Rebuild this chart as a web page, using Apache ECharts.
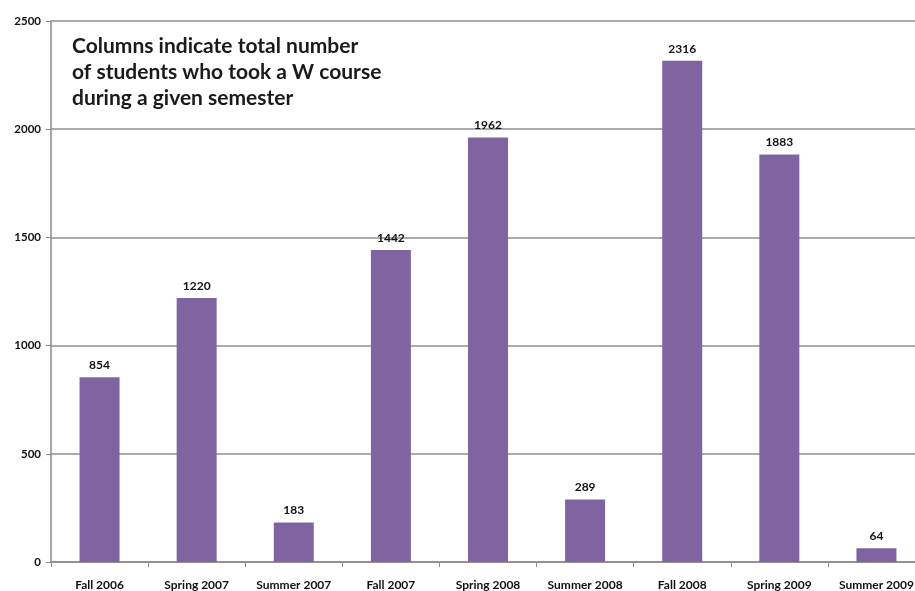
<!DOCTYPE html>
<html><head><meta charset="utf-8">
<script src="https://cdn.jsdelivr.net/npm/echarts@6/dist/echarts.min.js"></script>
<style>html,body{margin:0;padding:0;background:#fff;overflow:hidden;width:915px;height:591px}#c{width:925px;height:591px}</style>
</head><body><div id="c"></div>
<script>
const categories = ["Fall 2006","Spring 2007","Summer 2007","Fall 2007","Spring 2008","Summer 2008","Fall 2008","Spring 2009","Summer 2009"];
const students = [854,1220,183,1442,1962,289,2316,1883,64];
const titleLines = ["Columns indicate total number","of students who took a W course","during a given semester"];
const chart = echarts.init(document.getElementById('c'), null, {renderer:'canvas'});
chart.setOption({
  animation:false,
  backgroundColor:'#fff',
  title:{text:titleLines.join('\n'),left:67,top:28,textStyle:{fontFamily:'Lato',fontWeight:'bold',fontSize:21,lineHeight:26,color:'#1a1a1a'}},
  grid:{left:51,top:21,right:0,bottom:29,containLabel:false},
  xAxis:{type:'category',data:categories,
    axisLine:{lineStyle:{color:'#8a8a8a',width:1.5}},
    axisTick:{show:true,alignWithLabel:false,length:5,lineStyle:{color:'#8a8a8a'}},
    axisLabel:{interval:0,hideOverlap:false,fontFamily:'Lato',fontWeight:'bold',fontSize:12,color:'#111',margin:17}},
  yAxis:{type:'value',min:0,max:2500,interval:500,
    axisLine:{show:true,lineStyle:{color:'#8a8a8a',width:1.5}},
    axisTick:{show:true,length:5,lineStyle:{color:'#8a8a8a'}},
    splitLine:{lineStyle:{color:'#8f8f8f',width:1.5}},
    axisLabel:{fontFamily:'Lato',fontWeight:'bold',fontSize:11.5,color:'#111',margin:10,formatter:v=>String(v)}},
  series:[{type:'bar',data:students,barWidth:40,
    itemStyle:{color:'#8064A2'},
    label:{show:true,position:'top',distance:6,fontFamily:'Lato',fontWeight:'bold',fontSize:12,color:'#111'}}]
});
</script></body></html>
